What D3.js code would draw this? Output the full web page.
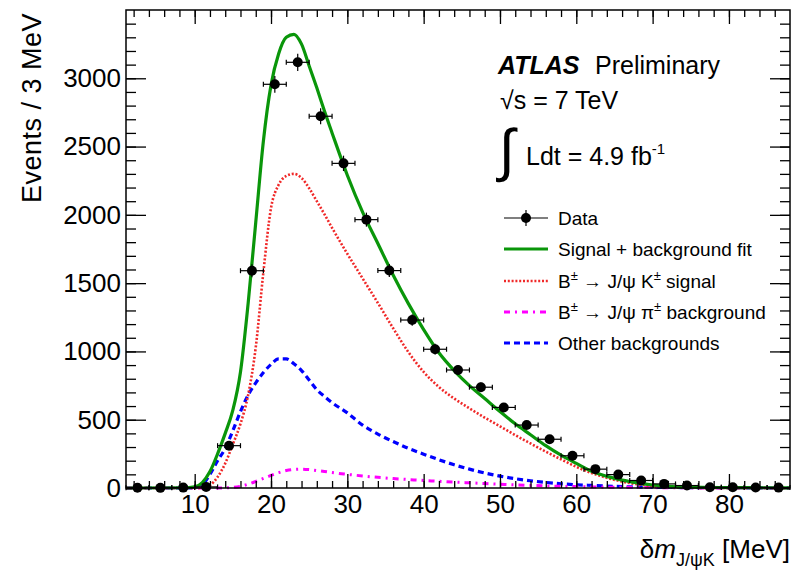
<!DOCTYPE html>
<html>
<head>
<meta charset="utf-8">
<script src="https://cdn.jsdelivr.net/npm/d3@7"></script>
<style>
  body { margin: 0; background: #fff; }
  text { font-family: "Liberation Sans", Arial, Helvetica, sans-serif; fill: #000; }
</style>
</head>
<body>
<script>
// data points (3 MeV bins)
const binCenters = [2.5, 5.5, 8.5, 11.5, 14.5, 17.5, 20.5, 23.5, 26.5, 29.5, 32.5, 35.5, 38.5, 41.5, 44.5,
  47.5, 50.5, 53.5, 56.5, 59.5, 62.5, 65.5, 68.5, 71.5, 74.5, 77.5, 80.5, 83.5, 86.5];
const dataCounts = [2, 1, 3, 8, 310, 1591, 2956, 3117, 2722, 2377, 1965, 1592, 1230, 1016, 864,
  738, 590, 461, 357, 236, 138, 98, 55, 30, 18, 6, 5, 4, 3];
const dataErrors = [1.4, 1, 1.7, 3, 18, 40, 54, 56, 52, 49, 44, 40, 35, 32, 29,
  27, 24, 21, 19, 15, 12, 10, 7, 5, 4, 2.4, 2.2, 2, 1.7];

// fitted curves
const curveX = [1, 9, 10, 11, 12, 13, 14, 15, 16, 17, 18, 19, 20, 21, 22, 23, 24, 25, 26, 27, 28,
  30, 32, 34, 36, 38, 40, 42, 44, 46, 48, 50, 52, 54, 56, 58, 60, 62, 64, 66, 68, 70, 72, 75, 80, 88];
const fitCurve = [0, 2, 8, 40, 120, 250, 400, 570, 850, 1350, 1945, 2540, 2950, 3180, 3300, 3322, 3250, 3090, 2930, 2760, 2600,
  2290, 2020, 1790, 1560, 1350, 1160, 990, 860, 750, 655, 560, 470, 390, 310, 240, 180, 122, 85, 58, 38, 22, 12, 6, 3, 1];
const sigCurve = [0, 0, 0, 3, 20, 80, 180, 320, 470, 680, 1030, 1580, 2050, 2220, 2285, 2300, 2270, 2195, 2100, 2005, 1905,
  1715, 1535, 1355, 1170, 995, 850, 740, 655, 583, 515, 452, 387, 326, 266, 210, 155, 110, 75, 47, 27, 14, 6, 2, 0, 0];
const piCurve = [0, 0, 0, 0, 0, 0, 1, 4, 12, 28, 48, 70, 92, 112, 128, 136, 138, 135, 128, 121, 113,
  100, 88, 78, 69, 62, 55, 49, 43, 38, 33, 28, 23, 19, 15, 12, 10, 8, 6, 5, 4, 3, 2, 1, 0, 0];
const bkgCurve = [0, 0, 3, 25, 100, 200, 290, 420, 560, 680, 770, 845, 905, 945, 945, 910, 860, 790, 720, 670, 625,
  550, 460, 395, 340, 290, 248, 207, 170, 138, 110, 87, 68, 53, 41, 31, 24, 19, 14, 10, 7, 5, 4, 3, 2, 1];

const xTicks = [10, 20, 30, 40, 50, 60, 70, 80];
const yTicks = [0, 500, 1000, 1500, 2000, 2500, 3000];

const legendItems = [
  {label: "Data", type: "data"},
  {label: "Signal + background fit", type: "fit"},
  {label: "sig", type: "sig"},
  {label: "pi", type: "pi"},
  {label: "Other backgrounds", type: "bkg"}
];

const W = 799, H = 571;
const pLeft = 126, pRight = 790, pTop = 10, pBottom = 488;

const svg = d3.select("body").append("svg").attr("width", W).attr("height", H);

const x = d3.scaleLinear().domain([1, 88]).range([pLeft, pRight]);
const y = d3.scaleLinear().domain([0, 3500]).range([pBottom, pTop]);

const styles = {
  fit: {color: "#0a960a", width: 3.2, dash: null},
  sig: {color: "#f02828", width: 2.6, dash: "2,1.8"},
  pi: {color: "#ff00ff", width: 3, dash: "6,5,2,5"},
  bkg: {color: "#0000ff", width: 3.2, dash: "6,4"}
};

// curves
const line = d3.line().x(d => x(d[0])).y(d => y(d[1])).curve(d3.curveMonotoneX);
const curves = [["bkg", bkgCurve], ["pi", piCurve], ["sig", sigCurve], ["fit", fitCurve]];
curves.forEach(([k, vals]) => {
  const st = styles[k];
  svg.append("path")
    .datum(curveX.map((cx, i) => [cx, vals[i]]))
    .attr("d", line)
    .attr("fill", "none")
    .attr("stroke", st.color)
    .attr("stroke-width", st.width)
    .attr("stroke-dasharray", st.dash);
});

// data points with error bars
const pts = svg.append("g").selectAll("g")
  .data(binCenters.map((c, i) => ({c: c, v: dataCounts[i], e: dataErrors[i]})))
  .enter().append("g");
pts.append("line")
  .attr("x1", d => x(d.c - 1.5)).attr("x2", d => x(d.c + 1.5))
  .attr("y1", d => y(d.v)).attr("y2", d => y(d.v))
  .attr("stroke", "#000").attr("stroke-width", 1.2);
pts.append("line")
  .attr("x1", d => x(d.c - 1.5)).attr("x2", d => x(d.c - 1.5))
  .attr("y1", d => y(d.v) - 2.5).attr("y2", d => y(d.v) + 2.5)
  .attr("stroke", "#000").attr("stroke-width", 1.2);
pts.append("line")
  .attr("x1", d => x(d.c + 1.5)).attr("x2", d => x(d.c + 1.5))
  .attr("y1", d => y(d.v) - 2.5).attr("y2", d => y(d.v) + 2.5)
  .attr("stroke", "#000").attr("stroke-width", 1.2);
pts.append("line")
  .attr("x1", d => x(d.c)).attr("x2", d => x(d.c))
  .attr("y1", d => y(d.v + d.e) - 1).attr("y2", d => y(d.v - d.e) + 1)
  .attr("stroke", "#000").attr("stroke-width", 1.2);
pts.append("circle")
  .attr("cx", d => x(d.c)).attr("cy", d => y(d.v)).attr("r", 5)
  .attr("fill", "#000");

// axes: ticks pointing inward on all sides
function styleAxis(g) {
  g.select(".domain").remove();
  g.selectAll(".tick line").attr("stroke", "#000").attr("stroke-width", 1.3);
}
const minorX = d3.range(2, 88, 2);
const minorY = d3.range(0, 3500, 100);

svg.append("g").attr("transform", `translate(0,${pBottom})`)
  .call(d3.axisBottom(x).tickValues(minorX).tickSize(-7).tickFormat("")).call(styleAxis);
svg.append("g").attr("transform", `translate(0,${pTop})`)
  .call(d3.axisTop(x).tickValues(minorX).tickSize(-7).tickFormat("")).call(styleAxis);
svg.append("g").attr("transform", `translate(${pLeft},0)`)
  .call(d3.axisLeft(y).tickValues(minorY).tickSize(-10).tickFormat("")).call(styleAxis);
svg.append("g").attr("transform", `translate(${pRight},0)`)
  .call(d3.axisRight(y).tickValues(minorY).tickSize(-10).tickFormat("")).call(styleAxis);

const xAx = svg.append("g").attr("transform", `translate(0,${pBottom})`)
  .call(d3.axisBottom(x).tickValues(xTicks).tickSize(-14).tickPadding(7).tickFormat(d3.format("d")))
  .call(styleAxis);
xAx.selectAll("text").attr("font-size", 26).attr("font-family", null);
svg.append("g").attr("transform", `translate(0,${pTop})`)
  .call(d3.axisTop(x).tickValues(xTicks).tickSize(-14).tickFormat("")).call(styleAxis);
const yAx = svg.append("g").attr("transform", `translate(${pLeft},0)`)
  .call(d3.axisLeft(y).tickValues(yTicks).tickSize(-20).tickPadding(5).tickFormat(d3.format("d")))
  .call(styleAxis);
yAx.selectAll("text").attr("font-size", 26).attr("font-family", null);
svg.append("g").attr("transform", `translate(${pRight},0)`)
  .call(d3.axisRight(y).tickValues(yTicks).tickSize(-20).tickFormat("")).call(styleAxis);

// frame
svg.append("rect")
  .attr("x", pLeft).attr("y", pTop).attr("width", pRight - pLeft).attr("height", pBottom - pTop)
  .attr("fill", "none").attr("stroke", "#000").attr("stroke-width", 1.5);

// axis titles
svg.append("text")
  .attr("transform", "translate(41,13) rotate(-90)")
  .attr("text-anchor", "end").attr("font-size", 27).attr("letter-spacing", 0.5)
  .text("Events / 3 MeV");

const xt = svg.append("text").attr("x", pRight).attr("y", 558)
  .attr("text-anchor", "end").attr("font-size", 26);
xt.append("tspan").text("δ");
xt.append("tspan").attr("font-style", "italic").text("m");
xt.append("tspan").attr("font-size", 18).attr("dy", 8).text("J/ψK");
xt.append("tspan").attr("dy", -8).text(" [MeV]");

// ATLAS label
const t1 = svg.append("text").attr("x", 498).attr("y", 74).attr("font-size", 25);
t1.append("tspan").attr("font-weight", "bold").attr("font-style", "italic").text("ATLAS");
t1.append("tspan").attr("x", 595).text("Preliminary");
svg.append("text").attr("x", 500).attr("y", 109).attr("font-size", 25).text("√s = 7 TeV");
svg.append("text").attr("x", 499).attr("y", 170).attr("font-size", 58)
  .attr("font-family", "DejaVu Serif").text("∫");
const t3 = svg.append("text").attr("x", 526).attr("y", 165).attr("font-size", 25);
t3.append("tspan").text("Ldt = 4.9 fb");
t3.append("tspan").attr("font-size", 15).attr("dy", -11).text("-1");

// legend
const legY = [218, 249, 281, 312, 343];
const lx1 = 504, lx2 = 548, ltx = 558;
legendItems.forEach((it, i) => {
  const ly = legY[i];
  const g = svg.append("g");
  if (it.type === "data") {
    g.append("line").attr("x1", lx1).attr("x2", lx2).attr("y1", ly).attr("y2", ly)
      .attr("stroke", "#000").attr("stroke-width", 1.2);
    g.append("line").attr("x1", (lx1 + lx2) / 2).attr("x2", (lx1 + lx2) / 2).attr("y1", ly - 8).attr("y2", ly + 8)
      .attr("stroke", "#000").attr("stroke-width", 1.2);
    g.append("circle").attr("cx", (lx1 + lx2) / 2).attr("cy", ly).attr("r", 5).attr("fill", "#000");
  } else {
    const st = styles[it.type];
    g.append("line").attr("x1", lx1).attr("x2", lx2).attr("y1", ly).attr("y2", ly)
      .attr("stroke", st.color).attr("stroke-width", st.width).attr("stroke-dasharray", st.dash);
  }
  const t = g.append("text").attr("x", ltx).attr("y", ly + 7).attr("font-size", 19);
  if (it.type === "sig" || it.type === "pi") {
    t.append("tspan").text("B");
    t.append("tspan").attr("font-size", 13).attr("dy", -8).text("±");
    t.append("tspan").attr("dy", 8).text(" → J/ψ ");
    t.append("tspan").text(it.type === "sig" ? "K" : "π");
    t.append("tspan").attr("font-size", 13).attr("dy", -8).text("±");
    t.append("tspan").attr("dy", 8).text(it.type === "sig" ? " signal" : " background");
  } else {
    t.text(it.label);
  }
});
</script>
</body>
</html>
